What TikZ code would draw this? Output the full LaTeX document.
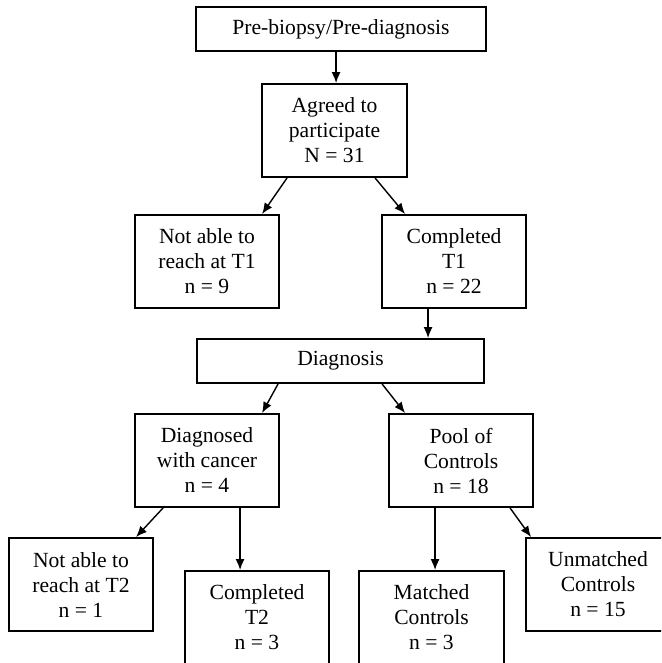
\documentclass[tikz,border=0pt]{standalone}
\usepackage{fontspec}
\setmainfont{Liberation Serif}
\usetikzlibrary{arrows.meta}
\begin{document}
\begin{tikzpicture}[x=1pt,y=-1pt,
  box/.style={draw=black, line width=1.9pt, fill=white, inner sep=0pt, align=center,
    font=\fontsize{21.6}{25}\selectfont},
  arr/.style={line width=1.4pt, -{Latex[length=11pt,width=9pt]}}]
\useasboundingbox (0,0) rectangle (661,663);
\clip (0,0) rectangle (661,663);
\fill[white] (0,0) rectangle (661,663);
% boxes: center, width, height
\node[box, minimum width=290pt, minimum height=44pt] (b1) at (341,29) {Pre-biopsy/Pre-diagnosis};
\node[box, minimum width=145pt, minimum height=93pt] (b2) at (334.5,130.5) {Agreed to\\participate\\N = 31};
\node[box, minimum width=144pt, minimum height=93pt] (b3) at (207,261.5) {Not able to\\reach at T1\\n = 9};
\node[box, minimum width=144pt, minimum height=93pt] (b4) at (454,261.5) {Completed\\T1\\n = 22};
\node[box, minimum width=287pt, minimum height=44pt] (b5) at (340.5,361) {Diagnosis};
\node[box, minimum width=144pt, minimum height=93pt] (b6) at (207,460.5) {Diagnosed\\with cancer\\n = 4};
\node[box, minimum width=144pt, minimum height=93pt] (b7) at (461,460.5) {Pool of\\Controls\\n = 18};
\node[box, minimum width=144pt, minimum height=93pt] (b8) at (81,584.5) {Not able to\\reach at T2\\n = 1};
\node[box, minimum width=144pt, minimum height=93pt] (b9) at (257,617.5) {Completed\\T2\\n = 3};
\node[box, minimum width=145pt, minimum height=93pt] (b10) at (431.5,617.5) {Matched\\Controls\\n = 3};
\node[box, minimum width=144pt, minimum height=93pt] (b11) at (598,584.5) {Unmatched\\Controls\\n = 15};
% connectors
\draw[arr] ([xshift=141pt]b1.south west) -- ([xshift=75pt]b2.north west);
\draw[arr] ([xshift=26pt]b2.south west) -- ([xshift=128pt]b3.north west);
\draw[arr] ([xshift=114pt]b2.south west) -- ([xshift=24pt]b4.north west);
\draw[arr] ([xshift=47pt]b4.south west) -- ([xshift=232pt]b5.north west);
\draw[arr] ([xshift=82pt]b5.south west) -- ([xshift=128pt]b6.north west);
\draw[arr] ([xshift=186pt]b5.south west) -- ([xshift=17pt]b7.north west);
\draw[arr] ([xshift=29pt]b6.south west) -- ([xshift=128pt]b8.north west);
\draw[arr] ([xshift=106pt]b6.south west) -- ([xshift=56pt]b9.north west);
\draw[arr] ([xshift=47pt]b7.south west) -- ([xshift=77pt]b10.north west);
\draw[arr] ([xshift=122pt]b7.south west) -- ([xshift=6pt]b11.north west);
\end{tikzpicture}
\end{document}
